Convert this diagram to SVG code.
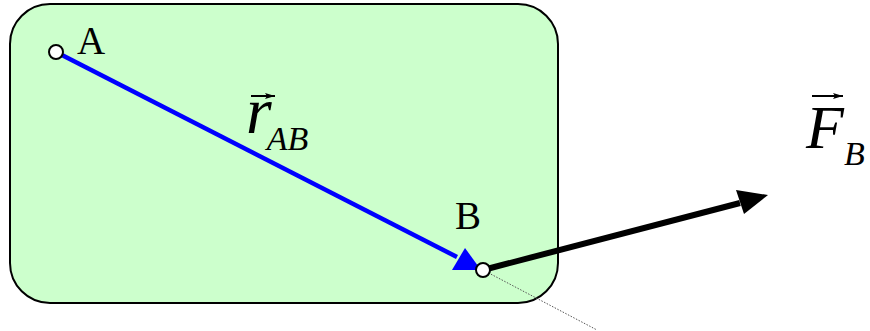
<svg xmlns="http://www.w3.org/2000/svg" width="870" height="331" viewBox="0 0 870 331">
<style>
text{font-family:"Liberation Serif","Times New Roman",serif;fill:#000}
.it{font-style:italic}
.pt{fill:#fff;stroke:#000;stroke-width:2}
</style>
<defs>
<marker id="vec" viewBox="0 0 10 6" refX="10" refY="3" markerWidth="10" markerHeight="6" orient="auto" markerUnits="userSpaceOnUse"><path d="M0,0 L10,3 L0,6 L2,3 Z" fill="#000"/></marker>
</defs>
<g id="body"><rect x="10" y="4" width="548" height="299" rx="40" ry="40" fill="#ccffcc" stroke="#000" stroke-width="2"/></g>
<g id="connectors">
<line x1="483" y1="270" x2="597" y2="330" stroke="#555" stroke-width="1" stroke-dasharray="1.5,1.5"/>
<line x1="56" y1="52" x2="457" y2="257" stroke="#0000ff" stroke-width="4.5"/>
<polygon points="481,270 452,270 465,248" fill="#0000ff"/>
<line x1="483" y1="270" x2="740" y2="203" stroke="#000" stroke-width="6"/>
<polygon points="768,195 736,190 744,214" fill="#000"/>
</g>
<g id="A"><circle class="pt" cx="56" cy="52" r="7"/><text x="77" y="54" font-size="39">A</text></g>
<g id="B"><circle class="pt" cx="483" cy="270" r="7"/><text x="455" y="229" font-size="39">B</text></g>
<g id="rAB">
<line x1="251" y1="96" x2="275" y2="96" stroke="#000" stroke-width="2" marker-end="url(#vec)"/>
<text class="it" x="246" y="133" font-size="66">r<tspan dx="-5" y="150" font-size="34">AB</tspan></text>
</g>
<g id="FB">
<line x1="812" y1="96" x2="843" y2="96" stroke="#000" stroke-width="2" marker-end="url(#vec)"/>
<text class="it" x="806" y="148" font-size="62">F<tspan y="165" font-size="34">B</tspan></text>
</g>
</svg>
